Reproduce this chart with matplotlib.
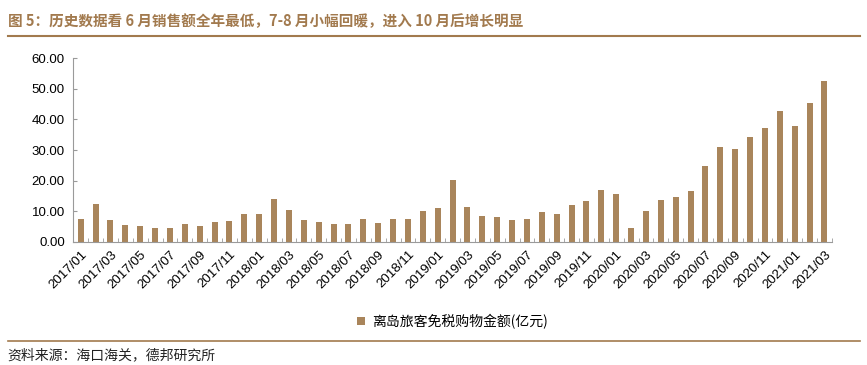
import numpy as np
import matplotlib.pyplot as plt
from matplotlib.lines import Line2D

plt.rcParams['font.family'] = ['Noto Sans CJK SC', 'DejaVu Sans']

# months 2017/01 .. 2021/03
months = [f"{y}/{m:02d}" for y in range(2017, 2022) for m in range(1, 13)][:51]

# 离岛旅客免税购物金额 (亿元)
sales = [7.5, 12.3, 7.0, 5.6, 5.2, 4.6, 4.5, 5.9, 5.2, 6.4, 6.9, 9.1,
         9.2, 14.1, 10.3, 7.1, 6.5, 5.7, 5.8, 7.4, 6.1, 7.5, 7.5, 10.1,
         11.1, 20.2, 11.3, 8.4, 8.2, 7.1, 7.5, 9.7, 9.1, 12.0, 13.2, 17.0,
         15.5, 4.3, 9.9, 13.7, 14.7, 16.5, 24.9, 31.0, 30.3, 34.1, 37.2, 42.7,
         37.9, 45.5, 52.5]

yticks = [0, 10, 20, 30, 40, 50, 60]

bar_color = '#A9855B'
title_color = '#A27A4E'
axis_color = '#9A9A9A'

fig = plt.figure(figsize=(8.67, 3.65), dpi=100)
ax = fig.add_axes([0.0845, 0.338, 0.875, 0.502])

x = np.arange(len(sales))
ax.bar(x, sales, width=0.4, color=bar_color, label='离岛旅客免税购物金额(亿元)')

ax.set_xlim(-0.5, len(sales) - 0.5)
ax.set_ylim(0, 60)
ax.set_yticks(yticks)
ax.set_yticklabels([f"{v:.2f}" for v in yticks], family='Liberation Sans', fontsize=9.5)

ax.set_xticks(x[::2])
ax.set_xticklabels(months[::2], rotation=45, ha='right', rotation_mode='anchor',
                   family='Liberation Sans', fontsize=9.5)
ax.set_xticks(np.arange(-0.5, len(sales), 1), minor=True)
ax.tick_params(axis='x', which='major', length=0, pad=5)
ax.tick_params(axis='x', which='minor', direction='in', length=3, color=axis_color)
ax.tick_params(axis='y', direction='in', length=3, color=axis_color, pad=6)

for s in ['top', 'right']:
    ax.spines[s].set_visible(False)
for s in ['left', 'bottom']:
    ax.spines[s].set_color(axis_color)

ax.legend(loc='center', bbox_to_anchor=(0.5, -0.435), frameon=False, fontsize=10,
          handlelength=0.6, handleheight=0.6, handletextpad=0.5)

# header / footer
fig.text(0.009, 0.943, '图 5：历史数据看 6 月销售额全年最低，7-8 月小幅回暖，进入 10 月后增长明显',
         color=title_color, fontsize=10.5, fontweight='bold', va='center')
fig.add_artist(Line2D([0.009, 0.992], [0.902, 0.902], color=title_color, lw=1.5))
fig.add_artist(Line2D([0.009, 0.992], [0.066, 0.066], color=title_color, lw=1.2))
fig.text(0.009, 0.027, '资料来源：海口海关，德邦研究所', fontsize=10, va='center', color='#222222')

fig.savefig('out.png', dpi=100)
